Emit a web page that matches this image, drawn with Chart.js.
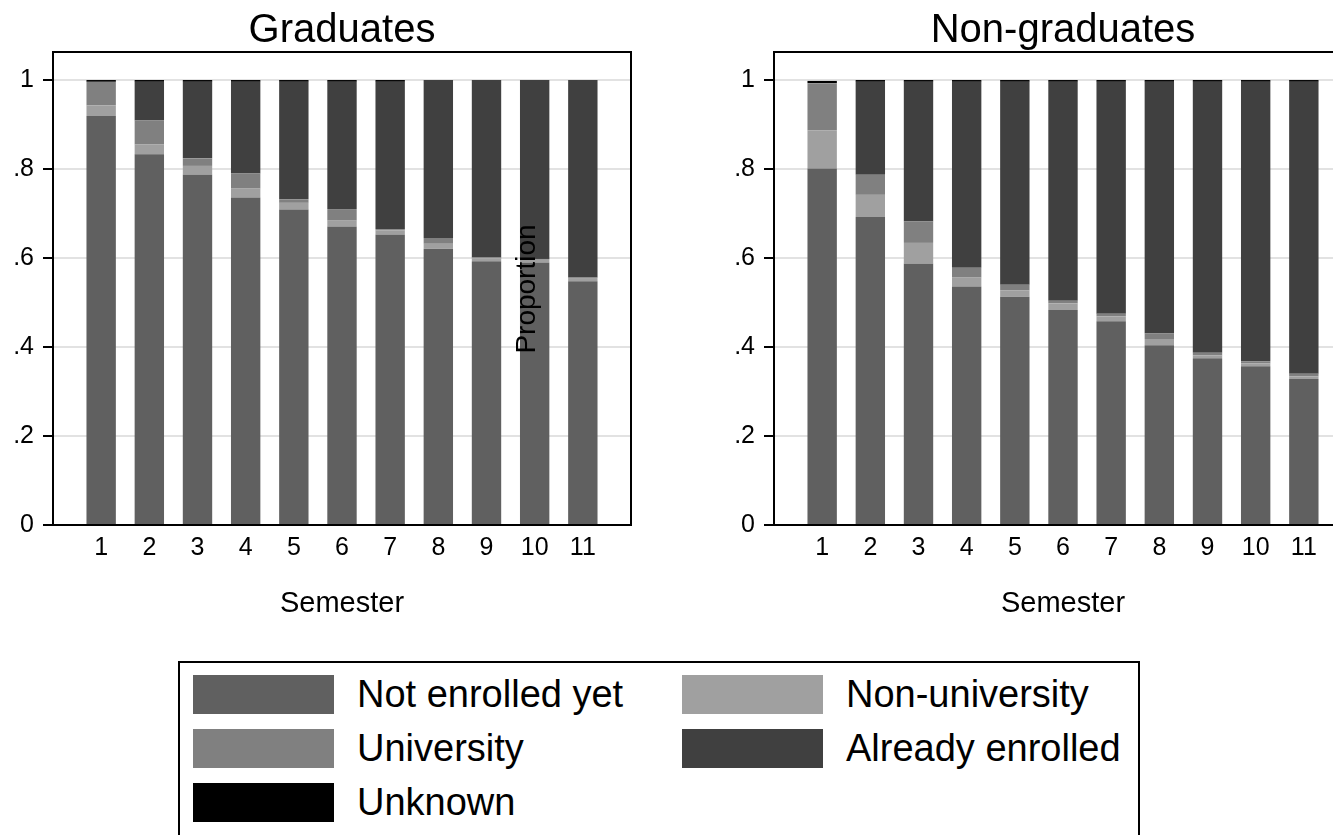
<!DOCTYPE html>
<html>
<head>
<meta charset="utf-8">
<script src="https://cdn.jsdelivr.net/npm/chart.js@4.4.0/dist/chart.umd.min.js"></script>
<style>
  html, body { margin: 0; padding: 0; background: #fff; overflow: hidden; }
  #wrap { position: relative; width: 1333px; height: 835px; overflow: hidden; font-family: "Liberation Sans", Arial, sans-serif; }
  #grad { position: absolute; left: 0; top: 0; }
  #nongrad { position: absolute; left: 721px; top: 0; }
  #legend {
    position: absolute; left: 178px; top: 661px; width: 962px; height: 200px;
    border: 2px solid #000; box-sizing: border-box;
    display: grid; grid-template-columns: 489px 489px; grid-auto-rows: 39px; row-gap: 15px;
    padding: 12px 0 0 13px;
  }
  .item { display: flex; align-items: center; font-size: 38px; color: #000; white-space: nowrap; }
  .sw { width: 141px; height: 39px; margin-right: 23px; flex: none; }
</style>
</head>
<body>
<div id="wrap">
  <canvas id="grad" width="640" height="640"></canvas>
  <canvas id="nongrad" width="640" height="640"></canvas>
  <div id="legend"></div>
</div>
<script>
const semesters = ['1', '2', '3', '4', '5', '6', '7', '8', '9', '10', '11'];
const seriesNames = ['Not enrolled yet', 'Non-university', 'University', 'Already enrolled', 'Unknown'];
const seriesColors = ['#606060', '#a0a0a0', '#808080', '#404040', '#000000'];
const yTickValues = [0, 0.2, 0.4, 0.6, 0.8, 1];
const yTickLabels = ['0', '.2', '.4', '.6', '.8', '1'];

// Graduates
const gradNotEnrolled = [0.919, 0.833, 0.787, 0.736, 0.709, 0.670, 0.653, 0.621, 0.593, 0.590, 0.548];
const gradNonUniv     = [0.024, 0.022, 0.020, 0.020, 0.015, 0.014, 0.009, 0.011, 0.006, 0.006, 0.007];
const gradUniv        = [0.053, 0.054, 0.017, 0.034, 0.008, 0.026, 0.003, 0.013, 0.002, 0.002, 0.002];
const gradAlready     = [0.000, 0.087, 0.172, 0.206, 0.264, 0.286, 0.331, 0.355, 0.399, 0.402, 0.443];
const gradUnknown     = [0.004, 0.004, 0.004, 0.004, 0.004, 0.004, 0.004, 0.000, 0.000, 0.000, 0.000];

// Non-graduates
const ngNotEnrolled = [0.801, 0.692, 0.587, 0.536, 0.513, 0.483, 0.458, 0.404, 0.375, 0.357, 0.328];
const ngNonUniv     = [0.086, 0.050, 0.047, 0.020, 0.014, 0.015, 0.011, 0.014, 0.006, 0.006, 0.006];
const ngUniv        = [0.106, 0.045, 0.048, 0.022, 0.013, 0.006, 0.006, 0.013, 0.006, 0.005, 0.006];
const ngAlready     = [0.000, 0.209, 0.314, 0.418, 0.456, 0.492, 0.521, 0.565, 0.609, 0.628, 0.656];
const ngUnknown     = [0.005, 0.004, 0.004, 0.004, 0.004, 0.004, 0.004, 0.004, 0.004, 0.004, 0.004];

const fontFamily = '"Liberation Sans", Arial, sans-serif';

// empty slot at each end so the bars sit at 1..11 on a 0..12 axis
const pad = arr => [null, ...arr, null];

const framePlugin = {
  id: 'frame',
  afterDraw(chart) {
    const { ctx, chartArea } = chart;
    ctx.save();
    ctx.strokeStyle = '#000';
    ctx.lineWidth = 2;
    ctx.strokeRect(chartArea.left, chartArea.top, chartArea.right - chartArea.left, chartArea.bottom - chartArea.top);
    ctx.restore();
  }
};

const proportionLabel = {
  id: 'proportionLabel',
  afterDraw(chart) {
    const ctx = chart.ctx;
    ctx.save();
    ctx.translate(535, 289);
    ctx.rotate(-Math.PI / 2);
    ctx.font = '28px ' + fontFamily;
    ctx.fillStyle = '#000';
    ctx.textAlign = 'center';
    ctx.textBaseline = 'alphabetic';
    ctx.fillText('Proportion', 0, 0);
    ctx.restore();
  }
};

function makeChart(canvas, title, series, extra) {
  return new Chart(canvas, {
    type: 'bar',
    data: {
      labels: ['', ...semesters, ''],
      datasets: series.map((vals, i) => ({
        label: seriesNames[i],
        data: pad(vals),
        backgroundColor: seriesColors[i],
        borderWidth: 0,
        categoryPercentage: 1,
        barPercentage: 0.61,
      })),
    },
    options: {
      responsive: false,
      animation: false,
      layout: { padding: { top: 0, right: 9, bottom: 0, left: 0 } },
      plugins: {
        legend: { display: false },
        tooltip: { enabled: false },
        title: {
          display: true,
          text: title,
          fullSize: false,
          color: '#000',
          font: { family: fontFamily, size: 40, weight: 'normal', lineHeight: 1.05 },
          padding: { top: 10, bottom: 0 },
        },
      },
      scales: {
        x: {
          stacked: true,
          offset: false,
          grid: { display: false, drawTicks: false },
          border: { display: true, color: '#000', width: 2 },
          ticks: { color: '#000', font: { family: fontFamily, size: 25 }, padding: 8, autoSkip: false, maxRotation: 0 },
          title: {
            display: true,
            text: 'Semester',
            color: '#000',
            font: { family: fontFamily, size: 29 },
            padding: { top: 0, bottom: 19 },
          },
          afterFit: s => { s.height = 115; },
        },
        y: {
          stacked: true,
          min: 0,
          max: 1.063,
          afterBuildTicks: s => { s.ticks = yTickValues.map(v => ({ value: v })); },
          grid: { color: '#e2e2e2', lineWidth: 2, drawTicks: true, tickLength: 10, tickColor: '#000', tickWidth: 2 },
          border: { display: true, color: '#000', width: 2 },
          ticks: { color: '#000', font: { family: fontFamily, size: 25 }, padding: 9, callback: (v, i) => yTickLabels[i] },
          afterFit: s => { s.width = 53; },
        },
      },
    },
    plugins: [framePlugin, ...extra],
  });
}

makeChart(document.getElementById('grad'), 'Graduates',
  [gradNotEnrolled, gradNonUniv, gradUniv, gradAlready, gradUnknown], [proportionLabel]);
makeChart(document.getElementById('nongrad'), 'Non-graduates',
  [ngNotEnrolled, ngNonUniv, ngUniv, ngAlready, ngUnknown], []);

// legend
const legend = document.getElementById('legend');
seriesNames.forEach((name, i) => {
  const item = document.createElement('div');
  item.className = 'item';
  const sw = document.createElement('div');
  sw.className = 'sw';
  sw.style.background = seriesColors[i];
  const txt = document.createElement('span');
  txt.textContent = name;
  item.appendChild(sw);
  item.appendChild(txt);
  legend.appendChild(item);
});
</script>
</body>
</html>
